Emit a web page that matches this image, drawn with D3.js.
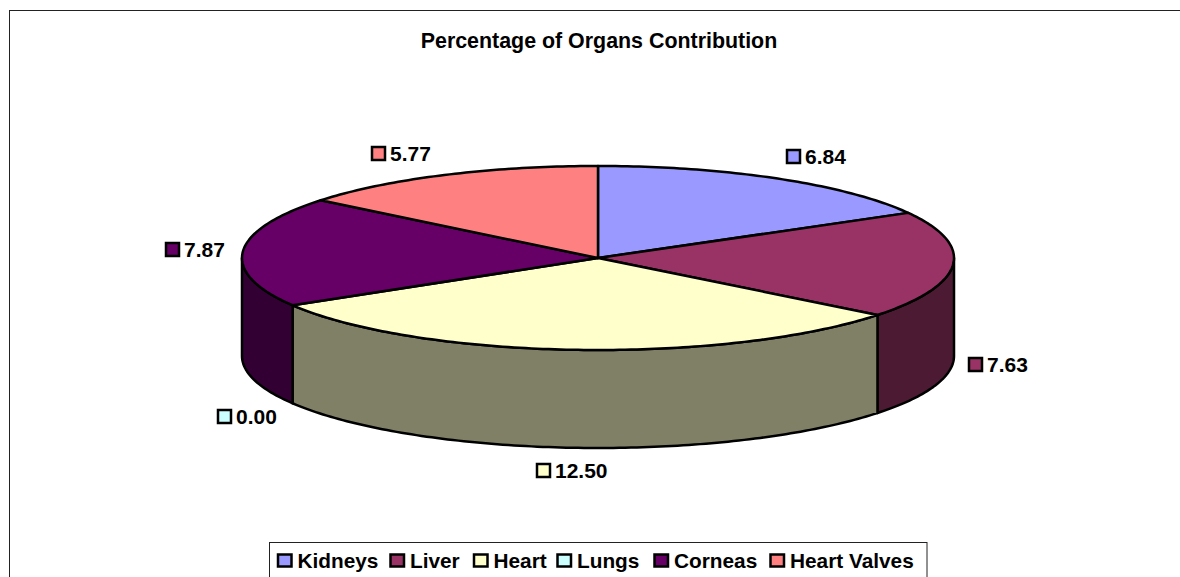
<!DOCTYPE html>
<html lang="en">
<head>
<meta charset="UTF-8">
<title>Percentage of Organs Contribution</title>
<script src="https://d3js.org/d3.v7.min.js"></script>
<style>
    html, body { margin: 0; padding: 0; background: #fff; overflow: hidden; }
    svg { display: block; }
    text { font-family: "Liberation Sans", Arial, sans-serif; font-weight: bold; fill: #000; }
</style>
</head>
<body>
<script>
    // data
    const organs = ["Kidneys", "Liver", "Heart", "Lungs", "Corneas", "Heart Valves"];
    const shares = [6.84, 7.63, 12.50, 0.00, 7.87, 5.77];
    const shareLabels = ["6.84", "7.63", "12.50", "0.00", "7.87", "5.77"];
    const topColors = ["#9999FF", "#993366", "#FFFFCC", "#CCFFFF", "#660066", "#FF8080"];
    const chartTitle = "Percentage of Organs Contribution";

    const width = 1180, height = 577;

    // pie layout constants
    const cx = 598, cy = 258, rx = 356, ry = 92, depth = 98;

    // label swatch top-left corners, same order as organs
    const labelX = [786, 968, 536, 217, 165, 371];
    const labelY = [149, 357, 463, 409, 242, 146];
    // legend swatch left edges
    const legendSwatchX = [277, 389.5, 473, 556.5, 653.5, 769.5];

    const svg = d3.select("body").append("svg")
        .attr("width", width)
        .attr("height", height);

    svg.append("rect").attr("width", width).attr("height", height).attr("fill", "#fff");

    // frame runs off the right and bottom of the picture
    svg.append("rect")
        .attr("x", 9.5).attr("y", 10.5)
        .attr("width", width).attr("height", height)
        .attr("fill", "none")
        .attr("stroke", "#222")
        .attr("stroke-width", 1);

    svg.append("text")
        .attr("x", 599).attr("y", 48)
        .attr("text-anchor", "middle")
        .style("font-size", "21.4px")
        .text(chartTitle);

    /*------------- pie -------------*/
    const pie = d3.pie().sort(null).value(d => d.value);
    const slices = pie(organs.map((name, i) => ({ name, value: shares[i], color: topColors[i] })));

    // angle is clockwise from 12 o'clock like d3.pie
    const px = a => cx + rx * Math.sin(a);
    const py = a => cy - ry * Math.cos(a);
    const line = d3.line();

    function arcPoints(a0, a1, dy) {
        const n = Math.max(2, Math.ceil((a1 - a0) * 60));
        return d3.range(n + 1).map(i => {
            const a = a0 + (a1 - a0) * i / n;
            return [px(a), py(a) + dy];
        });
    }

    // wall shade is the top colour at half brightness
    function wallColor(c) {
        const rgb = d3.rgb(c);
        return d3.rgb(rgb.r / 2, rgb.g / 2, rgb.b / 2);
    }

    // side walls, only the front half of the rim shows
    const frontStart = Math.PI / 2, frontEnd = Math.PI * 1.5;
    const walls = slices.filter(d => d.value > 0 && d.endAngle > frontStart && d.startAngle < frontEnd);

    svg.append("g").selectAll("path")
        .data(walls)
        .enter()
        .append("path")
        .attr("d", d => {
            const a0 = Math.max(d.startAngle, frontStart);
            const a1 = Math.min(d.endAngle, frontEnd);
            const pts = arcPoints(a0, a1, 0).concat(arcPoints(a0, a1, depth).reverse());
            return line(pts) + "Z";
        })
        .attr("fill", d => wallColor(d.data.color))
        .attr("stroke", "#000")
        .attr("stroke-width", 2.5)
        .attr("stroke-linejoin", "round");

    // top face
    svg.append("g").selectAll("path")
        .data(slices.filter(d => d.value > 0))
        .enter()
        .append("path")
        .attr("d", d => line([[cx, cy]].concat(arcPoints(d.startAngle, d.endAngle, 0))) + "Z")
        .attr("fill", d => d.data.color)
        .attr("stroke", "#000")
        .attr("stroke-width", 2.5)
        .attr("stroke-linejoin", "round");

    /*------------- data labels -------------*/
    const labels = svg.append("g").selectAll("g")
        .data(slices)
        .enter()
        .append("g")
        .attr("transform", (d, i) => `translate(${labelX[i]},${labelY[i]})`);

    labels.append("rect")
        .attr("x", 1).attr("y", 1)
        .attr("width", 13).attr("height", 13)
        .attr("fill", d => d.data.color)
        .attr("stroke", "#000")
        .attr("stroke-width", 2.5);

    labels.append("text")
        .attr("x", 19).attr("y", 15)
        .style("font-size", "21px")
        .text((d, i) => shareLabels[i]);

    /*------------- legend -------------*/
    const legend = svg.append("g");

    legend.append("rect")
        .attr("x", 269.5).attr("y", 542.5)
        .attr("width", 657.5).attr("height", 50)
        .attr("fill", "#fff")
        .attr("stroke", "#222")
        .attr("stroke-width", 1);

    const items = legend.selectAll("g.item")
        .data(organs)
        .enter()
        .append("g")
        .attr("class", "item")
        .attr("transform", (d, i) => `translate(${legendSwatchX[i]},553)`);

    items.append("rect")
        .attr("x", 1).attr("y", 1.5)
        .attr("width", 13.5).attr("height", 12)
        .attr("fill", (d, i) => topColors[i])
        .attr("stroke", "#000")
        .attr("stroke-width", 2.5);

    items.append("text")
        .attr("x", 20.5).attr("y", 14.5)
        .style("font-size", "20.8px")
        .text(d => d);
</script>
</body>
</html>
